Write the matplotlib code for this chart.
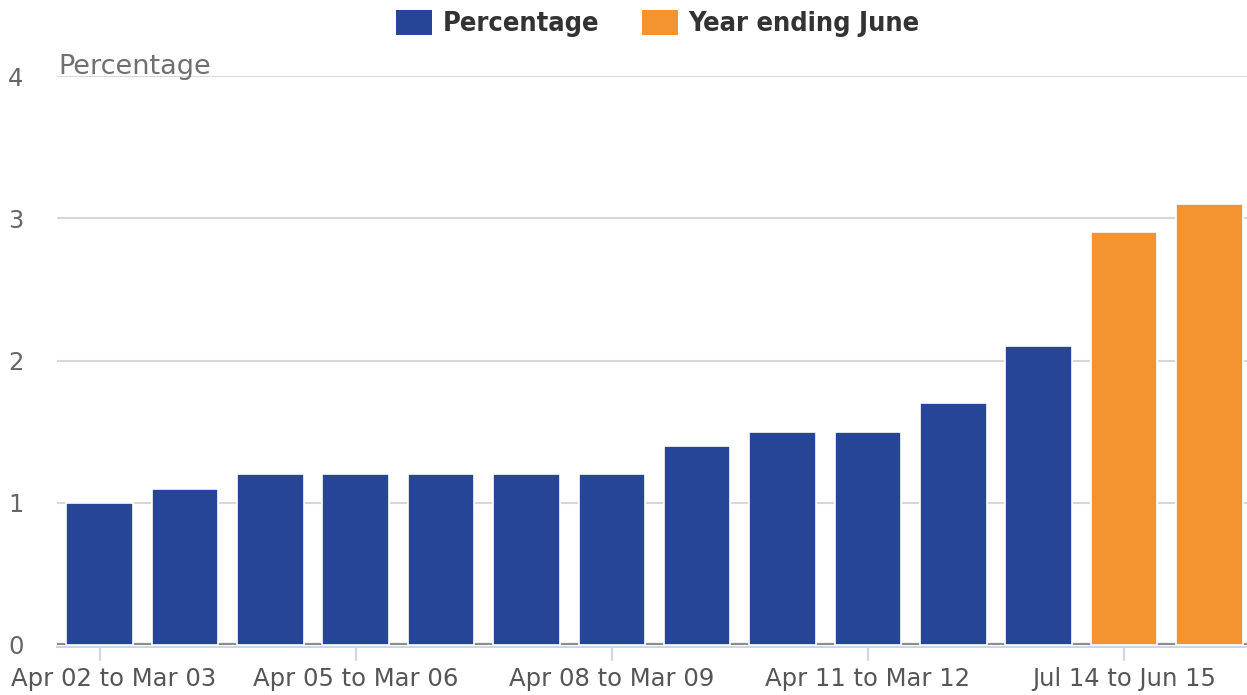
import matplotlib
matplotlib.use("Agg")
import matplotlib.pyplot as plt
from matplotlib.patches import Patch
from matplotlib.transforms import ScaledTranslation

plt.rcParams["font.family"] = ["DejaVu Sans"]

categories = ["Apr 02 to Mar 03", "Apr 03 to Mar 04", "Apr 04 to Mar 05", "Apr 05 to Mar 06",
              "Apr 06 to Mar 07", "Apr 07 to Mar 08", "Apr 08 to Mar 09", "Apr 09 to Mar 10",
              "Apr 10 to Mar 11", "Apr 11 to Mar 12", "Apr 12 to Mar 13", "Apr 13 to Mar 14",
              "Jul 14 to Jun 15", "Jul 15 to Jun 16"]
percentage = [1.0, 1.1, 1.2, 1.2, 1.2, 1.2, 1.2, 1.4, 1.5, 1.5, 1.7, 2.1, None, None]
year_ending_june = [None] * 12 + [2.9, 3.1]
series_names = ["Percentage", "Year ending June"]
yticks = [0, 1, 2, 3, 4]

BLUE = "#274596"
ORANGE = "#f39431"

W, H = 1247, 695
fig = plt.figure(figsize=(W / 100, H / 100), dpi=100)
ax = fig.add_axes([57 / W, 50 / H, 1195 / W, 569 / H])

x = list(range(len(categories)))
px = [i for i, v in zip(x, percentage) if v is not None]
pv = [v for v in percentage if v is not None]
ox = [i for i, v in zip(x, year_ending_june) if v is not None]
ov = [v for v in year_ending_june if v is not None]

ax.bar(px, pv, width=0.78, color=BLUE, edgecolor="white", linewidth=1.2, zorder=3)
ax.bar(ox, ov, width=0.78, color=ORANGE, edgecolor="white", linewidth=1.2, zorder=3)

ax.set_xlim(-0.5, len(categories) - 0.5)
ax.set_ylim(0, 4)
ax.set_yticks(yticks)
ax.set_yticklabels([str(t) for t in yticks])
ax.yaxis.grid(True, color="#d8d8d8", linewidth=1.5, zorder=0)
ax.set_axisbelow(True)
ax.axhline(0, color="#8c8c8c", linewidth=3, zorder=2)

for s in ["top", "right", "left"]:
    ax.spines[s].set_visible(False)
ax.spines["bottom"].set_color("#ccd6eb")
ax.spines["bottom"].set_linewidth(1.5)
ax.spines["bottom"].set_position(("outward", 1.5))

ax.tick_params(axis="y", length=0, labelsize=17.5, labelcolor="#666666", pad=29.5)
for lbl in ax.get_yticklabels():
    lbl.set_horizontalalignment("center")
ax.set_xticks(x[::3])
ax.set_xticklabels(categories[::3])
ax.tick_params(axis="x", length=10, width=1.5, color="#ccd6eb", labelsize=17.5,
               labelcolor="#555555", pad=4.5)

# First label is pushed inside the figure (as in the reference)
first = ax.get_xticklabels()[0]
first.set_horizontalalignment("left")
first.set_transform(first.get_transform() + ScaledTranslation(-89 / 100, 0, fig.dpi_scale_trans))

fig.text(58 / W, 1 - 67 / H, "Percentage", fontsize=19.5, color="#707070",
         ha="left", va="center")

handles = [Patch(facecolor=BLUE, edgecolor="none"), Patch(facecolor=ORANGE, edgecolor="none")]
leg = fig.legend(handles, series_names, loc="center", bbox_to_anchor=(658 / W, 1 - 23.5 / H),
                 ncol=2, frameon=False, handlelength=1.3, handleheight=1.05, handletextpad=0.4,
                 columnspacing=1.6, borderpad=0, prop={"family": "DejaVu Sans", "size": 19.5,
                                                       "weight": "bold", "stretch": "condensed"})
for t in leg.get_texts():
    t.set_color("#333333")

fig.savefig("out.png", dpi=100)
